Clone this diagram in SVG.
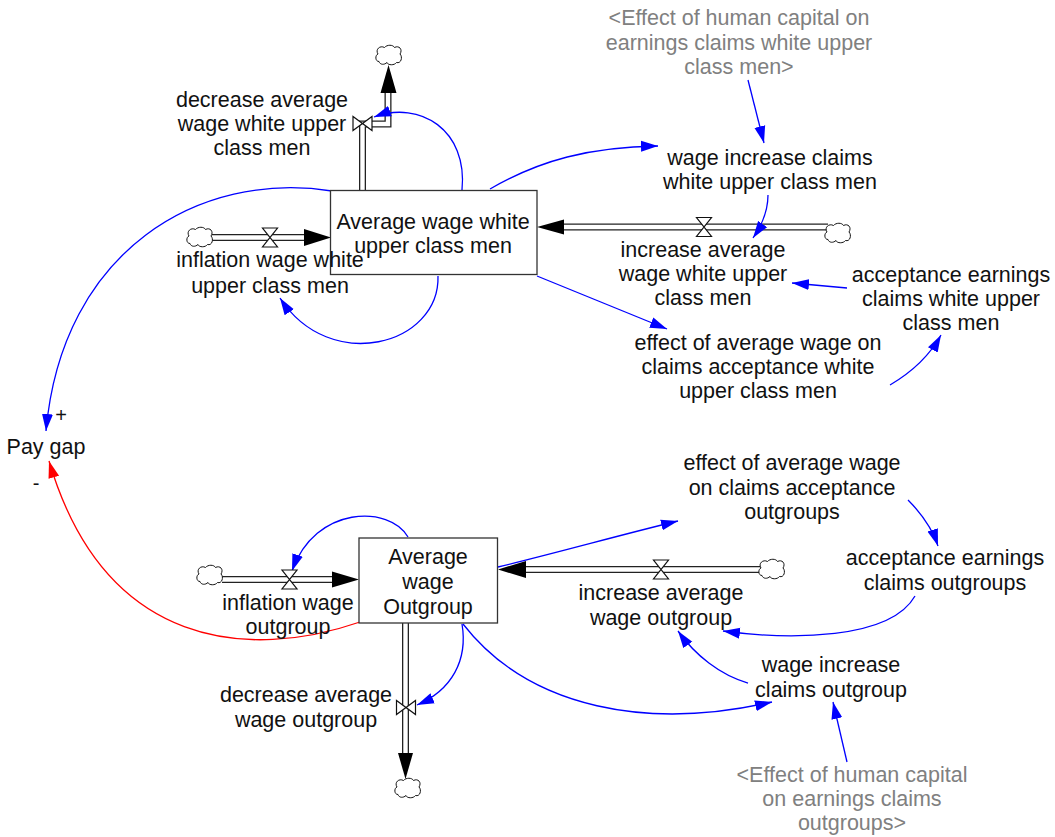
<svg xmlns="http://www.w3.org/2000/svg" width="1055" height="837" viewBox="0 0 1055 837">
  <defs>
    <style>
      text { font-family: "Liberation Sans", Arial, sans-serif; font-size: 21.5px; fill: #111; text-anchor: middle; }
      text.shadow { fill: #808080; }
      .link { fill: none; stroke: #0000ff; stroke-width: 1.3; }
      .neg { fill: none; stroke: #ff0000; stroke-width: 1.3; }
      .pipe-out { fill: none; stroke: #222; stroke-width: 7; stroke-linejoin: miter; }
      .pipe-in { fill: none; stroke: #fff; stroke-width: 4.4; stroke-linejoin: miter; }
      .stock { fill: #fff; stroke: #333; stroke-width: 1.3; }
      .valve { fill: #fff; stroke: #111; stroke-width: 1.2; }
      .cloud { fill: #fff; stroke: #111; stroke-width: 1; }
      .head { fill: #000; }
    </style>
    <marker id="arrowBlue" markerUnits="userSpaceOnUse" markerWidth="18" markerHeight="12" refX="17" refY="6" orient="auto">
      <path d="M0,0.5 L17,6 L0,11.5 Z" fill="#0000ff"/>
    </marker>
    <marker id="arrowRed" markerUnits="userSpaceOnUse" markerWidth="18" markerHeight="12" refX="17" refY="6" orient="auto">
      <path d="M0,0.5 L17,6 L0,11.5 Z" fill="#ff0000"/>
    </marker>
    <path id="cloudShape" class="cloud" d="M-10,6.5 C-14,6.5 -14,0 -11,-1 C-14,-5.5 -9,-10 -4.5,-7.5 C-2,-10.5 4,-10.5 5.5,-7.5 C10,-10 14,-5.5 11,-1 C14,2 12,9 7.5,7.5 C5.5,10.5 -1,10.5 -2,7.5 C-4.5,10 -9,10 -10,6.5 Z"/>
    <path id="valveH" class="valve" d="M-7.5,-9.5 L7.5,-9.5 L-7.5,9.5 L7.5,9.5 Z"/>
    <path id="valveV" class="valve" d="M-9.5,-7 L-9.5,7 L9.5,-7 L9.5,7 Z"/>
  </defs>

  <rect width="1055" height="837" fill="#fff"/>

  <!-- flow pipes -->
  <g id="pipes">
    <!-- inflation wage white upper class men -->
    <path class="pipe-out" d="M212,237.5 L306,237.5"/>
    <path class="pipe-in" d="M212,237.5 L306,237.5"/>
    <polygon class="head" points="304,229 331,237.5 304,246"/>
    <!-- increase average wage white upper class men -->
    <path class="pipe-out" d="M828,227 L562,227"/>
    <path class="pipe-in" d="M828,227 L562,227"/>
    <polygon class="head" points="564,219.5 537,227 564,234.5"/>
    <!-- decrease average wage white upper class men -->
    <path class="pipe-out" d="M362.5,190 L362.5,124 L388,124 L388,91"/>
    <path class="pipe-in" d="M362.5,190 L362.5,124 L388,124 L388,91"/>
    <polygon class="head" points="380.5,93 388.5,65 396.5,93"/>
    <!-- inflation wage outgroup -->
    <path class="pipe-out" d="M222,579.5 L334,579.5"/>
    <path class="pipe-in" d="M222,579.5 L334,579.5"/>
    <polygon class="head" points="332,571.5 359,579.5 332,587.5"/>
    <!-- increase average wage outgroup -->
    <path class="pipe-out" d="M761,569.5 L524,569.5"/>
    <path class="pipe-in" d="M761,569.5 L524,569.5"/>
    <polygon class="head" points="526,561 498,569.5 526,578"/>
    <!-- decrease average wage outgroup -->
    <path class="pipe-out" d="M405.5,623 L405.5,755"/>
    <path class="pipe-in" d="M405.5,623 L405.5,755"/>
    <polygon class="head" points="398,753 405.5,779 413,753"/>
  </g>

  <!-- sources and sinks -->
  <g id="clouds">
    <use href="#cloudShape" x="200" y="237"/>
    <use href="#cloudShape" x="838" y="233"/>
    <use href="#cloudShape" x="389" y="55"/>
    <use href="#cloudShape" x="210" y="575"/>
    <use href="#cloudShape" x="772" y="569"/>
    <use href="#cloudShape" x="408" y="788"/>
  </g>

  <!-- causal links -->
  <g id="connectors">
    <path class="link" marker-end="url(#arrowBlue)" d="M462,190 C468,130 420,100 374,117"/>
    <path class="link" marker-end="url(#arrowBlue)" d="M438,276 C440,345 330,375 280,298"/>
    <path class="link" marker-end="url(#arrowBlue)" d="M332,191 C200,170 62,250 46,431"/>
    <path class="link" marker-end="url(#arrowBlue)" d="M490,189 C540,160 590,147 658,146"/>
    <path class="link" marker-end="url(#arrowBlue)" d="M748,80 L764,143"/>
    <path class="link" marker-end="url(#arrowBlue)" d="M768,195 C768,210 762,225 753,238"/>
    <path class="link" marker-end="url(#arrowBlue)" d="M847,288 L792,283"/>
    <path class="link" marker-end="url(#arrowBlue)" d="M537,276 L667,329"/>
    <path class="link" marker-end="url(#arrowBlue)" d="M890,385 C912,372 930,355 941,335"/>
    <path class="neg" marker-end="url(#arrowRed)" d="M360,622 C250,660 105,650 49,461"/>
    <path class="link" marker-end="url(#arrowBlue)" d="M408,537 C390,505 315,505 292,571"/>
    <path class="link" marker-end="url(#arrowBlue)" d="M498,567 C560,552 620,535 678,521"/>
    <path class="link" marker-end="url(#arrowBlue)" d="M908,500 C920,512 932,528 938,546"/>
    <path class="link" marker-end="url(#arrowBlue)" d="M915,596 C890,640 790,640 723,631"/>
    <path class="link" marker-end="url(#arrowBlue)" d="M748,683 C720,675 695,655 678,631"/>
    <path class="link" marker-end="url(#arrowBlue)" d="M463,624 C530,710 650,730 772,702"/>
    <path class="link" marker-end="url(#arrowBlue)" d="M847,762 L833,702"/>
    <path class="link" marker-end="url(#arrowBlue)" d="M462,624 C468,660 452,690 417,705"/>
  </g>

  <!-- stocks -->
  <g id="stock-white">
    <rect class="stock" x="330.5" y="190.5" width="206.5" height="84"/>
    <text x="433" y="229">Average wage white</text>
    <text x="433" y="253">upper class men</text>
  </g>
  <g id="stock-outgroup">
    <rect class="stock" x="359" y="538" width="138.5" height="85"/>
    <text x="428" y="564">Average</text>
    <text x="428" y="589">wage</text>
    <text x="428" y="614">Outgroup</text>
  </g>

  <!-- flows -->
  <g id="flow-inflation-white">
    <use href="#valveH" x="270" y="237.5"/>
    <text x="270" y="267">inflation wage white</text>
    <text x="270" y="293">upper class men</text>
  </g>
  <g id="flow-increase-white">
    <use href="#valveH" x="704" y="227"/>
    <text x="703" y="257">increase average</text>
    <text x="703" y="281">wage white upper</text>
    <text x="703" y="305">class men</text>
  </g>
  <g id="flow-decrease-white">
    <use href="#valveV" x="362.5" y="123.5"/>
    <text x="262" y="107">decrease average</text>
    <text x="262" y="131">wage white upper</text>
    <text x="262" y="155">class men</text>
  </g>
  <g id="flow-inflation-outgroup">
    <use href="#valveH" x="289.5" y="579.5"/>
    <text x="288" y="610">inflation wage</text>
    <text x="288" y="634">outgroup</text>
  </g>
  <g id="flow-increase-outgroup">
    <use href="#valveH" x="661" y="569.5"/>
    <text x="661" y="600">increase average</text>
    <text x="661" y="625">wage outgroup</text>
  </g>
  <g id="flow-decrease-outgroup">
    <use href="#valveV" x="406" y="707.5"/>
    <text x="306" y="702">decrease average</text>
    <text x="306" y="727">wage outgroup</text>
  </g>

  <!-- auxiliaries -->
  <g id="pay-gap">
    <text x="46" y="454">Pay gap</text>
    <text x="61" y="422" style="font-size:20px">+</text>
    <text x="36" y="490" style="font-size:20px">-</text>
  </g>
  <g id="shadow-human-capital-white">
    <text class="shadow" x="739" y="25">&lt;Effect of human capital on</text>
    <text class="shadow" x="739" y="50">earnings claims white upper</text>
    <text class="shadow" x="739" y="74">class men&gt;</text>
  </g>
  <g id="wage-increase-claims-white">
    <text x="770" y="165">wage increase claims</text>
    <text x="770" y="189">white upper class men</text>
  </g>
  <g id="acceptance-white">
    <text x="951" y="282">acceptance earnings</text>
    <text x="951" y="306">claims white upper</text>
    <text x="951" y="330">class men</text>
  </g>
  <g id="effect-wage-acceptance-white">
    <text x="758" y="350">effect of average wage on</text>
    <text x="758" y="374">claims acceptance white</text>
    <text x="758" y="398">upper class men</text>
  </g>
  <g id="effect-wage-acceptance-outgroups">
    <text x="792" y="470">effect of average wage</text>
    <text x="792" y="495">on claims acceptance</text>
    <text x="792" y="519">outgroups</text>
  </g>
  <g id="acceptance-outgroups">
    <text x="945" y="565">acceptance earnings</text>
    <text x="945" y="590">claims outgroups</text>
  </g>
  <g id="wage-increase-claims-outgroup">
    <text x="831" y="672">wage increase</text>
    <text x="831" y="697">claims outgroup</text>
  </g>
  <g id="shadow-human-capital-outgroups">
    <text class="shadow" x="852" y="782">&lt;Effect of human capital</text>
    <text class="shadow" x="852" y="806">on earnings claims</text>
    <text class="shadow" x="852" y="830">outgroups&gt;</text>
  </g>
</svg>
